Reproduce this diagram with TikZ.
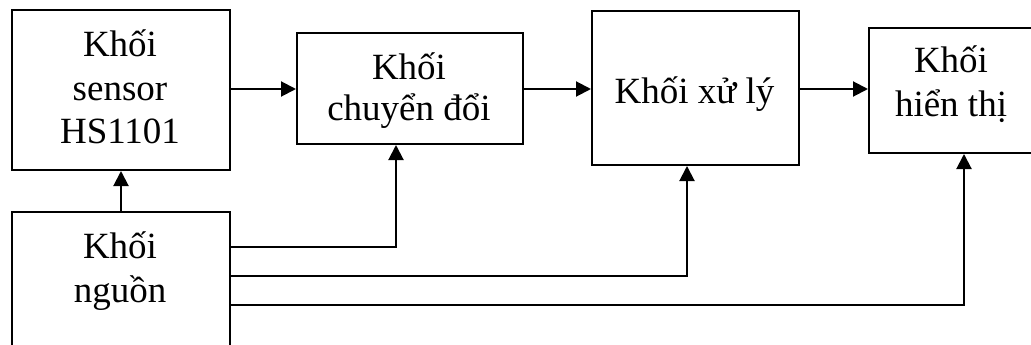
\documentclass[tikz,border=0pt]{standalone}
\usepackage{fontspec}
\setmainfont{Liberation Serif}
\usetikzlibrary{arrows.meta}
\begin{document}
\begin{tikzpicture}[x=1pt,y=-1pt,
  blk/.style={draw, line width=2pt, inner sep=0pt, anchor=north west},
  lbl/.style={font=\fontsize{37}{43}\selectfont, anchor=base, inner sep=0pt},
  link/.style={line width=2pt},
  feed/.style={link, -{Triangle[length=15pt,width=15pt]}}]
\useasboundingbox (0,0) rectangle (1031,345);
\clip (0,0) rectangle (1031,345);

% block outlines
\node[blk, minimum width=218pt, minimum height=160pt] (sensor) at (11,9) {};
\node[blk, minimum width=226pt, minimum height=111pt] (conv) at (296,32) {};
\node[blk, minimum width=207pt, minimum height=154pt] (proc) at (591,10) {};
\node[blk, minimum width=170pt, minimum height=125pt] (disp) at (868,27) {};
\node[blk, minimum width=218pt, minimum height=200pt] (power) at (11,211) {};

% block captions
\node[lbl] at (120,57) {Khối};
\node[lbl] at (120,100) {sensor};
\node[lbl] at (120,143) {HS1101};
\node[lbl] at (409,80) {Khối};
\node[lbl] at (409,120) {chuyển đổi};
\node[lbl] at (694.5,103) {Khối xử lý};
\node[lbl] at (951,73) {Khối};
\node[lbl] at (951,117) {hiển thị};
\node[lbl] at (120,258) {Khối};
\node[lbl] at (120,302) {nguồn};

% signal chain
\draw[feed] (sensor.east |- 0,89) -- (conv.west |- 0,89);
\draw[feed] (conv.east |- 0,89) -- (proc.west |- 0,89);
\draw[feed] (proc.east |- 0,89) -- (disp.west |- 0,89);

% supply lines
\draw[feed] (power.north) -- (sensor.south);
\draw[feed] (power.east |- 0,247) -| (396,0 |- conv.south);
\draw[feed] (power.east |- 0,276) -| (687,0 |- proc.south);
\draw[feed] (power.east |- 0,305) -| (964,0 |- disp.south);
\end{tikzpicture}
\end{document}
